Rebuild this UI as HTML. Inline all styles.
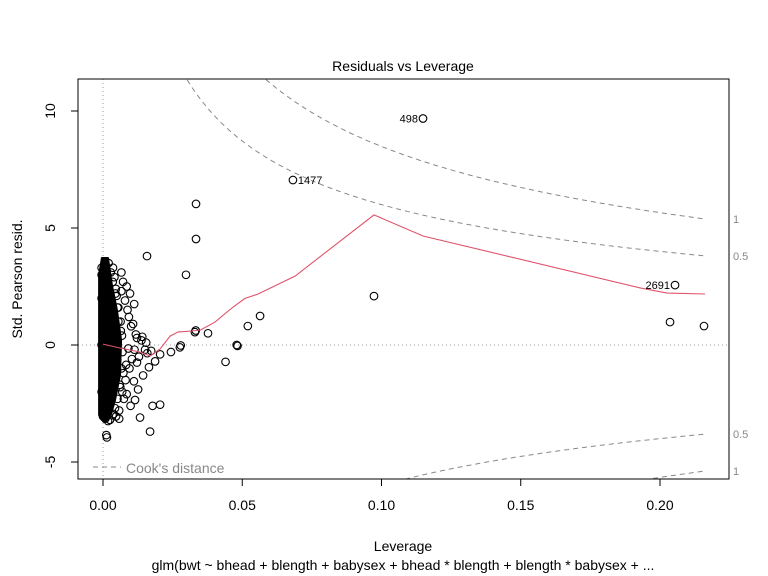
<!DOCTYPE html>
<html><head><meta charset="utf-8"><style>
html,body{margin:0;background:#fff;overflow:hidden;width:768px;height:576px;}
svg{display:block;font-family:"Liberation Sans",Arial,sans-serif;}
</style></head><body>
<svg id="chart" width="768" height="576" viewBox="0 0 768 576" xmlns="http://www.w3.org/2000/svg">
<text x="403" y="71" text-anchor="middle" font-size="14">Residuals vs Leverage</text>
<text x="403" y="551" text-anchor="middle" font-size="14">Leverage</text>
<text x="403" y="570" text-anchor="middle" font-size="14">glm(bwt ~ bhead + blength + babysex + bhead * blength + blength * babysex + ...</text>
<text x="0" y="0" transform="translate(22,279) rotate(-90)" text-anchor="middle" font-size="14">Std. Pearson resid.</text>
<g id="plot"></g>
</svg>
<script>
const xTicks=[0,0.05,0.1,0.15,0.2];
const xTickLabels=["0.00","0.05","0.10","0.15","0.20"];
const yTicks=[-5,0,5,10];
const yTickLabels=["-5","0","5","10"];
const cookLevels=[0.5,1];
const cookP=8;
const outlierLev=[0.1149,0.0682,0.2054,0.0334,0.0334,0.0158,0.0298,0.0973,0.0564,0.052,0.2036,0.2158,0.048,0.0483,0.044,0.033,0.0333,0.0377,0.0276,0.0279,0.0244,0.0205,0.0169,0.0133,0.0178,0.0205,0.0115,0.0126,0.0144,0.0165,0.0187,0.0151,0.0122,0.0101,0.0112,0.0097,0.0085,0.0093,0.0108,0.0118,0.0072,0.0079,0.0088,0.0066,0.0104,0.0113,0.0138,0.0155,0.0173,0.0122,0.0095,0.0081,0.0069,0.0075,0.0099,0.0058,0.0062,0.0085,0.0129,0.0141,0.0159,0.0111,0.0091,0.0073,0.0064,0.0055,0.0049,0.0052,0.0046,0.0041,0.0038,0.0036,0.0012,0.0014,0.0047,0.0058,0.0066,0.0083,0.0020,0.0028,0.0035,0.0045,0.0055,0.0063,0.0068,0.0070,0.0066,0.0060,0.0052,0.0043,0.0034,0.0025,0.0018,0.0008,0.0000,-0.0005,-0.0005,-0.0005,-0.0005,-0.0005];
const outlierRes=[9.68,7.05,2.56,6.03,4.53,3.8,3.0,2.09,1.24,0.81,0.98,0.81,0.0,-0.04,-0.72,0.55,0.62,0.5,-0.1,-0.02,-0.3,-0.4,-3.7,-3.1,-2.6,-2.55,-2.35,-1.9,-1.3,-0.95,-0.7,-0.2,0.3,0.8,1.75,2.2,2.5,1.2,0.9,0.45,2.7,1.9,1.5,3.1,-0.6,-0.2,0.2,0.1,-0.25,-0.75,-1.0,-1.5,-2.0,-2.3,-2.6,-2.8,-1.8,-2.1,-0.5,0.35,-0.35,-1.55,-0.15,-1.2,0.6,1.0,2.1,1.6,2.4,2.9,-2.95,3.3,-3.85,-3.95,-3.05,-3.15,2.3,-0.85,3.5,3.1,2.7,2.2,1.6,1.0,0.4,-0.3,-1.0,-1.7,-2.3,-2.7,-3.0,-3.2,-3.25,-3.15,-3.05,-2.0,0.0,2.0,3.0,3.3];
const coreLev=[-0.0014,-0.0004,0.0018,0.0032,0.005,0.0065,0.0061,0.0043,0.0025,0.0004,-0.0014];
const coreRes=[2.99,3.72,3.72,2.56,1.5,0.21,-1.28,-2.35,-3.12,-3.29,-2.99];
const smoothLev=[0,0.0061,0.0133,0.0169,0.0205,0.0241,0.027,0.032,0.035,0.0402,0.0463,0.0510,0.0557,0.0690,0.0973,0.1149,0.1929,0.2026,0.2162];
const smoothRes=[0.04,-0.13,-0.30,-0.47,-0.17,0.38,0.56,0.60,0.64,0.98,1.58,1.99,2.18,2.95,5.56,4.66,2.44,2.22,2.18];
const labLev=[0.1149,0.0682,0.2054];
const labRes=[9.68,7.05,2.56];
const labText=["498","1477","2691"];

const X=v=>103+v*2785, Y=v=>345-v*23.4;
const NS="http://www.w3.org/2000/svg";
const g=document.getElementById('plot');
function mk(t,a,p){const e=document.createElementNS(NS,t);for(const k in a)e.setAttribute(k,a[k]);(p||g).appendChild(e);return e;}

let e=mk('line',{x1:78,x2:729,y1:Y(0),y2:Y(0),stroke:'#999','stroke-dasharray':'1,3'});

e=mk('line',{x1:X(0),x2:X(0),y1:79,y2:479,stroke:'#999','stroke-dasharray':'1,3'});


const clip=mk('clipPath',{id:'pc'});mk('rect',{x:78,y:79,width:651,height:400},clip);
cookLevels.forEach(c=>{[1,-1].forEach(s=>{
  let d='';for(let i=0;i<=300;i++){const h=0.005+i*(0.2162-0.005)/300;const r=s*Math.sqrt(c*cookP*(1-h)/h);d+=(i?'L':'M')+X(h).toFixed(1)+','+Y(r).toFixed(1);}
  const p=mk('path',{d:d,fill:'none',stroke:'#888','stroke-dasharray':'5,4','clip-path':'url(#pc)'});
  
  const r=s*Math.sqrt(c*cookP*(1-0.2162)/0.2162);
  const t=mk('text',{x:733,y:Y(r)+4,'font-size':11,fill:'#888'});t.textContent=String(c);
  
});});

let cd='';coreLev.forEach((l,i)=>{cd+=(i?'L':'M')+X(l).toFixed(1)+','+Y(coreRes[i]).toFixed(1);});
e=mk('path',{d:cd+'Z',fill:'#000',stroke:'#000','stroke-width':2,'stroke-linejoin':'round'});


outlierLev.forEach((l,i)=>{const c=mk('circle',{cx:X(l),cy:Y(outlierRes[i]),r:3.8,fill:'none',stroke:'#000','stroke-width':1.1});
});

let sd='';smoothLev.forEach((l,i)=>{sd+=(i?'L':'M')+X(l).toFixed(1)+','+Y(smoothRes[i]).toFixed(1);});
e=mk('path',{d:sd,fill:'none',stroke:'#df536b','stroke-width':1.1});


labLev.forEach((l,i)=>{const t=mk('text',{x:X(l)-5,y:Y(labRes[i])+4,'font-size':11,'text-anchor':'end'});
if(i==1){t.setAttribute('x',X(l)+5);t.setAttribute('text-anchor','start');}
t.textContent=labText[i];});

e=mk('rect',{x:78,y:79,width:651,height:400,fill:'none',stroke:'#000'});


xTicks.forEach((v,i)=>{mk('line',{x1:X(v),x2:X(v),y1:479,y2:486,stroke:'#000'});
const t=mk('text',{x:X(v),y:510,'text-anchor':'middle','font-size':14});t.textContent=xTickLabels[i];
});
yTicks.forEach((v,i)=>{mk('line',{x1:71,x2:78,y1:Y(v),y2:Y(v),stroke:'#000'});
const t=mk('text',{x:0,y:0,transform:`translate(55,${Y(v)}) rotate(-90)`,'text-anchor':'middle','font-size':14});t.textContent=yTickLabels[i];
});

e=mk('line',{x1:93,x2:121,y1:467,y2:467,stroke:'#888','stroke-dasharray':'5,4'});

e=mk('text',{x:126,y:473,'font-size':14,fill:'#888'});e.textContent="Cook's distance";

</script>
</body></html>
